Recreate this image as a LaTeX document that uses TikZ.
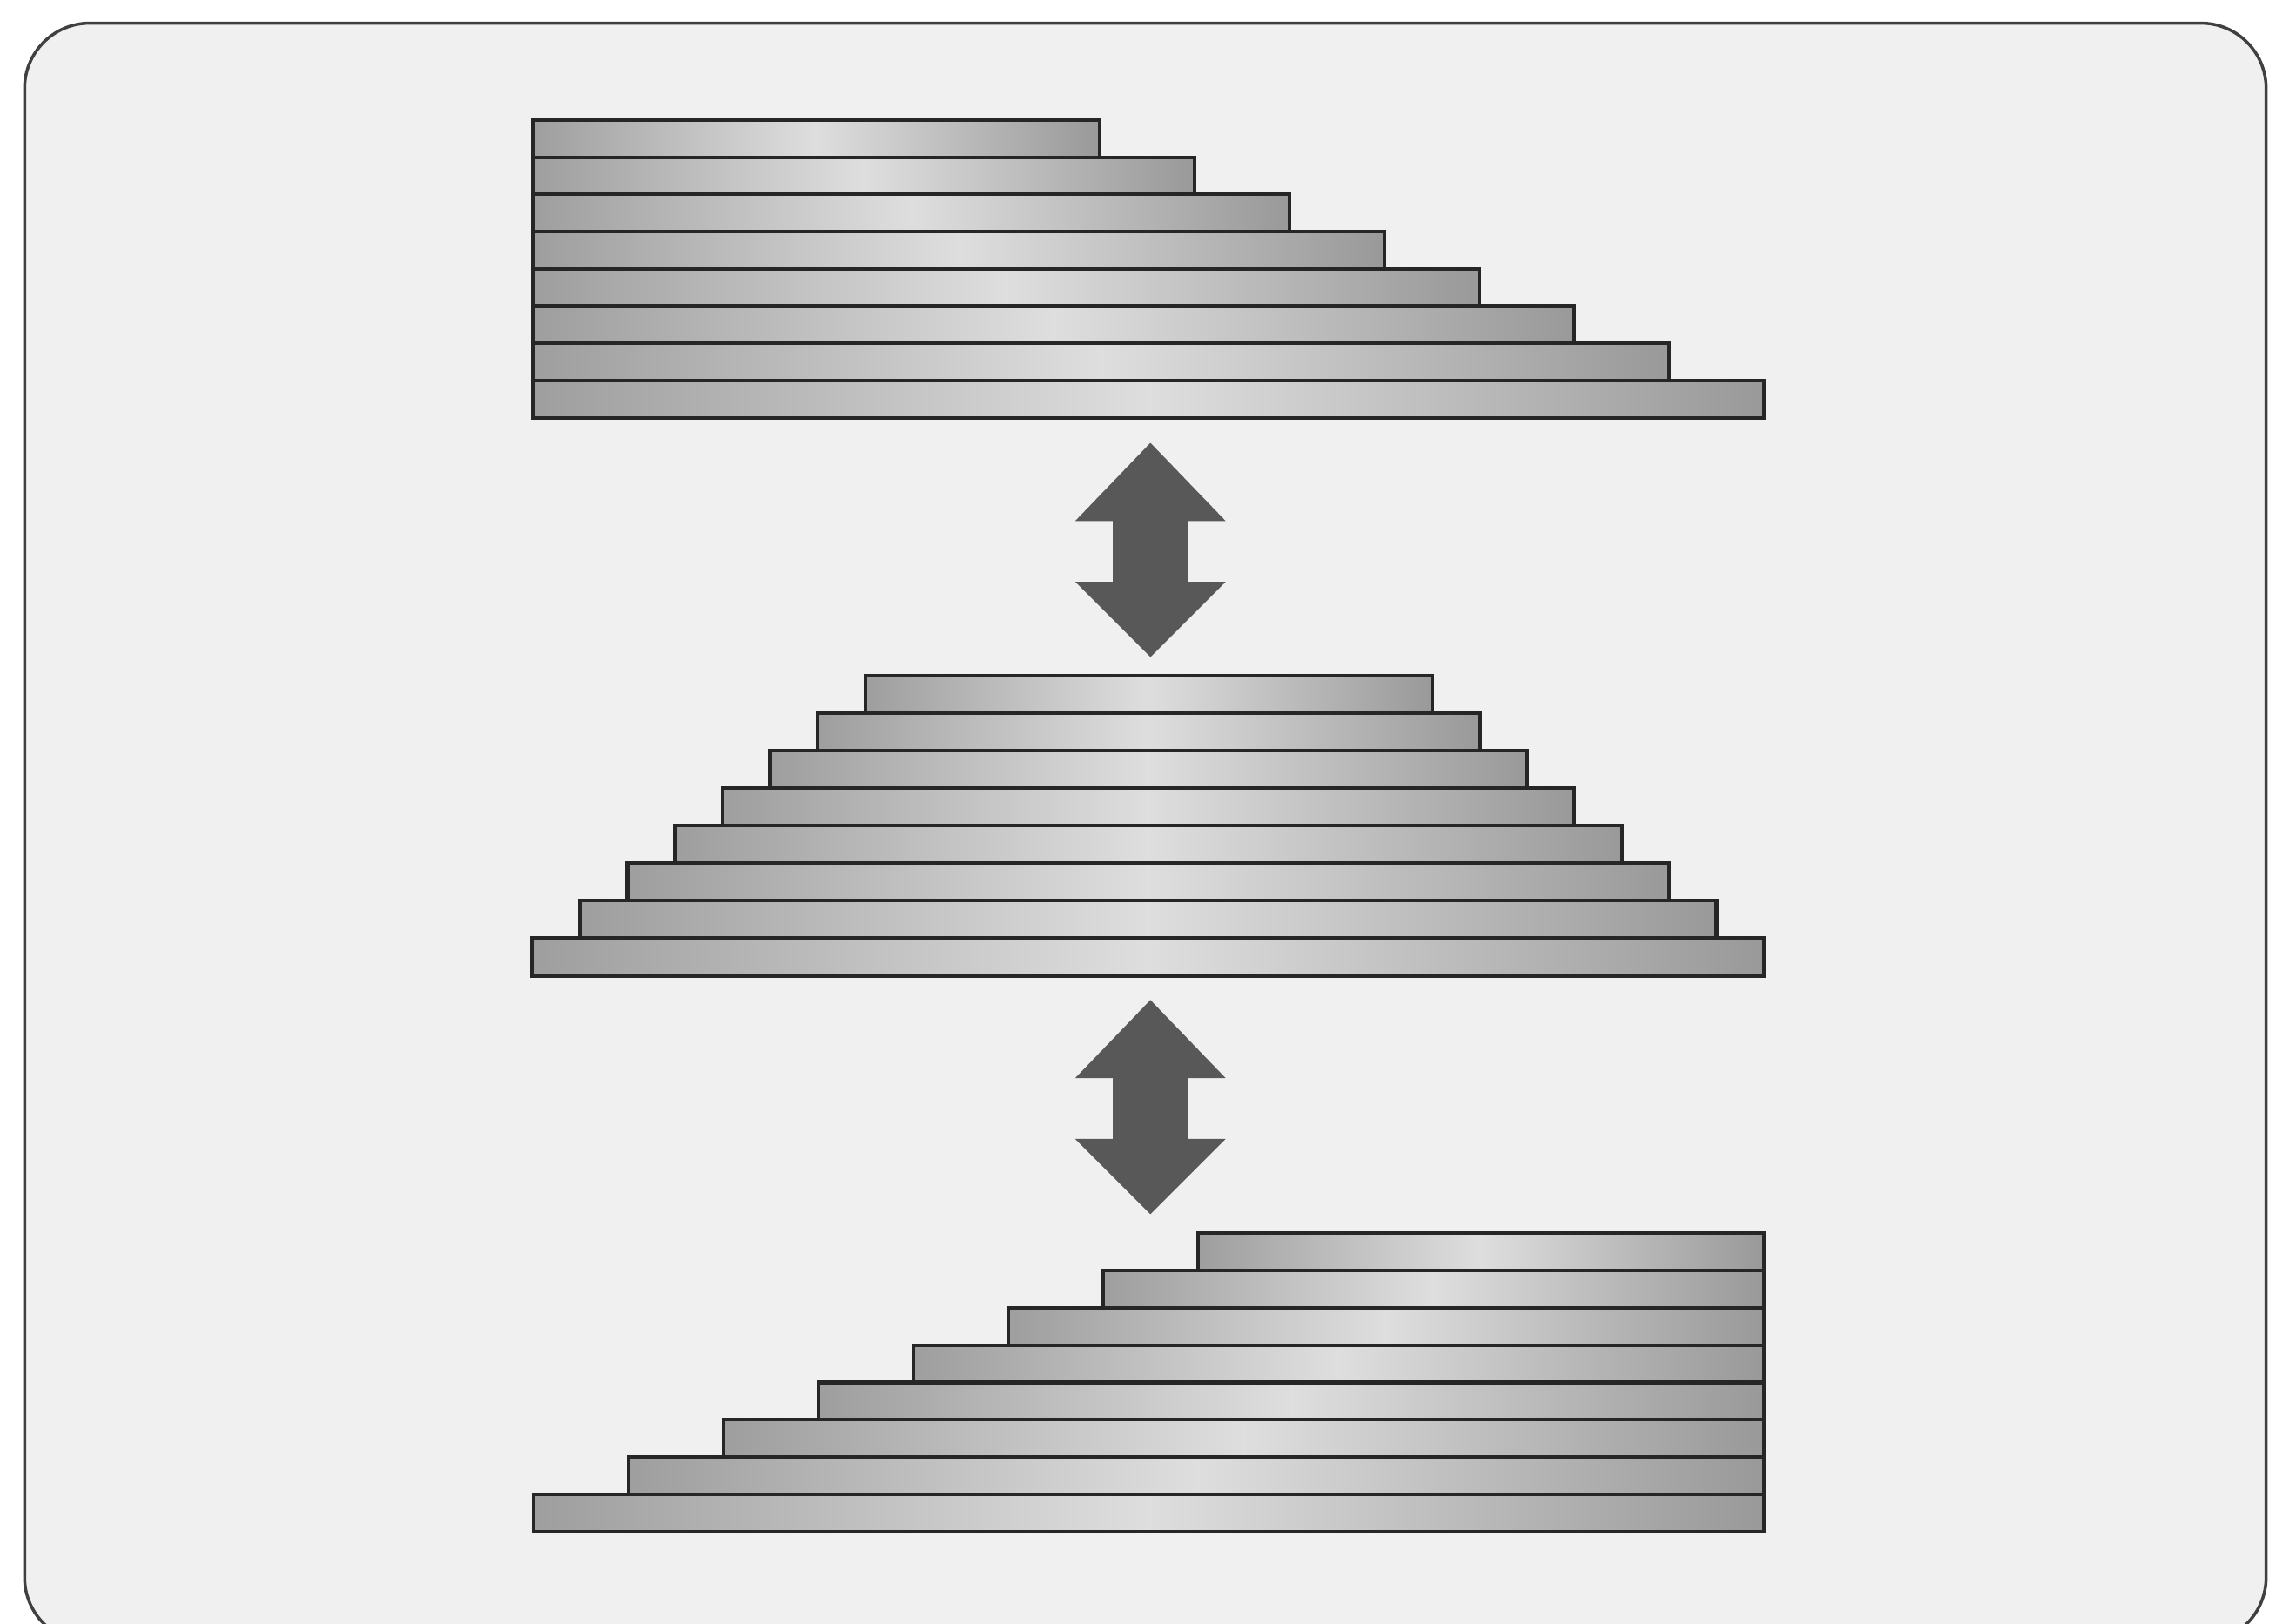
\documentclass[tikz,border=0pt]{standalone}
\usetikzlibrary{calc}

\definecolor{panelbg}{HTML}{F0F0F0}
\definecolor{arrowgray}{HTML}{585858}

\begin{document}
\begin{tikzpicture}[x=0.01cm, y=-0.01cm,
    bar/.style={draw=black!85, line width=0.7pt, left color=black!38, right color=black!40, middle color=black!13},
    swaparrow/.style={fill=arrowgray, draw=none}]
    \useasboundingbox (0,0) rectangle (1568,1122);

    % Panel with rounded frame
    \draw[fill=panelbg, draw=black!75, line width=0.6pt, rounded corners=0.45cm] (17,16) rectangle (1566,1135);

    % Top stack: bars aligned left, growing to the right
    \foreach \i in {0,...,7}
        \draw[bar] (368,{83+25.7*\i}) rectangle ({760+65.6*\i},{108.7+25.7*\i});

    % Middle stack: centred bars (pyramid)
    \foreach \i in {0,...,7}
        \draw[bar] ({598-32.9*\i},{467+25.9*\i}) rectangle ({990+32.7*\i},{492.9+25.9*\i});

    % Bottom stack: bars aligned right, growing to the left
    \foreach \i in {0,...,7}
        \draw[bar] ({828-65.6*\i},{852+25.8*\i}) rectangle (1219,{877.8+25.8*\i});

    % Double-headed block arrows between the stacks
    \foreach \t in {306,691}{
        \coordinate (tip) at (795,\t);
        \fill[swaparrow] (tip) -- ++(52,54) -- ++(-26,0) -- ++(0,42) -- ++(26,0)
            -- ++(-52,52) -- ++(-52,-52) -- ++(26,0) -- ++(0,-42) -- ++(-26,0) -- cycle;
    }

\end{tikzpicture}
\end{document}
